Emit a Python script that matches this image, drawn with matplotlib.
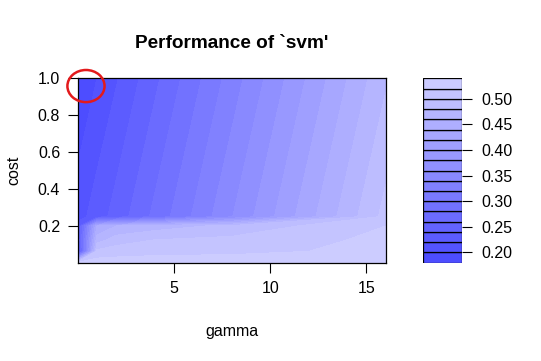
import colorsys
import numpy as np
import matplotlib
matplotlib.use("Agg")
import matplotlib.pyplot as plt
from matplotlib.patches import Ellipse

plt.rcParams["font.family"] = ["Liberation Sans", "DejaVu Sans"]

# tuning grid and cross-validation error
gamma = [0.03125, 1, 2, 4, 8, 16]
cost = [0.001, 0.0625, 0.125, 0.2, 0.25, 0.5, 1]
error = [
    [0.530, 0.530, 0.530, 0.530, 0.530, 0.530],  # cost 0.001
    [0.220, 0.505, 0.510, 0.514, 0.516, 0.524],  # cost 0.0625
    [0.240, 0.470, 0.490, 0.500, 0.505, 0.525],  # cost 0.125
    [0.230, 0.440, 0.460, 0.470, 0.485, 0.520],  # cost 0.2
    [0.212, 0.230, 0.248, 0.285, 0.359, 0.507],  # cost 0.25
    [0.202, 0.220, 0.238, 0.275, 0.349, 0.497],  # cost 0.5
    [0.182, 0.200, 0.218, 0.255, 0.329, 0.477],  # cost 1
]
levels = np.round(np.arange(0.18, 0.5401, 0.02), 2)
key_ticks = [0.20, 0.25, 0.30, 0.35, 0.40, 0.45, 0.50]

# hsv palette: hue 2/3, saturation 0.7 -> 0.2
n = len(levels) - 1
colors = [colorsys.hsv_to_rgb(2 / 3, s, 1.0) for s in np.linspace(0.7, 0.2, n)]

W, H = 541, 361
fig = plt.figure(figsize=(W / 100, H / 100), dpi=100)

ax = fig.add_axes([78.3 / W, 1 - 262.7 / H, 307.4 / W, 184.4 / H])
ax.contourf(gamma, cost, error, levels=levels, colors=colors)
ax.set_xlim(gamma[0], gamma[-1])
ax.set_ylim(cost[0], cost[-1])
ax.set_xticks([5, 10, 15])
ax.set_yticks([0.2, 0.4, 0.6, 0.8, 1.0])
ax.set_yticklabels(["0.2", "0.4", "0.6", "0.8", "1.0"])
ax.tick_params(length=7, width=0.8, labelsize=11.5, pad=6)
ax.set_xlabel("gamma", fontsize=11.5, labelpad=20)
ax.set_ylabel("cost", fontsize=11.5, labelpad=12)
for sp in ax.spines.values():
    sp.set_linewidth(0.9)
ax.set_title("Performance of `svm'", fontsize=13.7, fontweight="bold", pad=22)

# the red circle drawn over the top left corner
ax.add_patch(Ellipse((0.43, 0.958), 1.93, 0.174, fill=False, edgecolor="#e31a1c",
                     linewidth=1.8, clip_on=False, zorder=5))

# key
kax = fig.add_axes([423.3 / W, 1 - 262.7 / H, 39 / W, 184.4 / H])
kax.bar(0.5, np.diff(levels), bottom=levels[:-1], width=1, color=colors,
        edgecolor="black", linewidth=0.9)
kax.set_xlim(0, 1)
kax.set_ylim(levels[0], levels[-1])
kax.set_xticks([])
kax.yaxis.tick_right()
kax.set_yticks(key_ticks)
kax.set_yticklabels([f"{t:.2f}" for t in key_ticks])
kax.tick_params(length=7, width=0.8, labelsize=11.5, pad=7)
for sp in kax.spines.values():
    sp.set_visible(False)

fig.savefig("out.png", dpi=100)
